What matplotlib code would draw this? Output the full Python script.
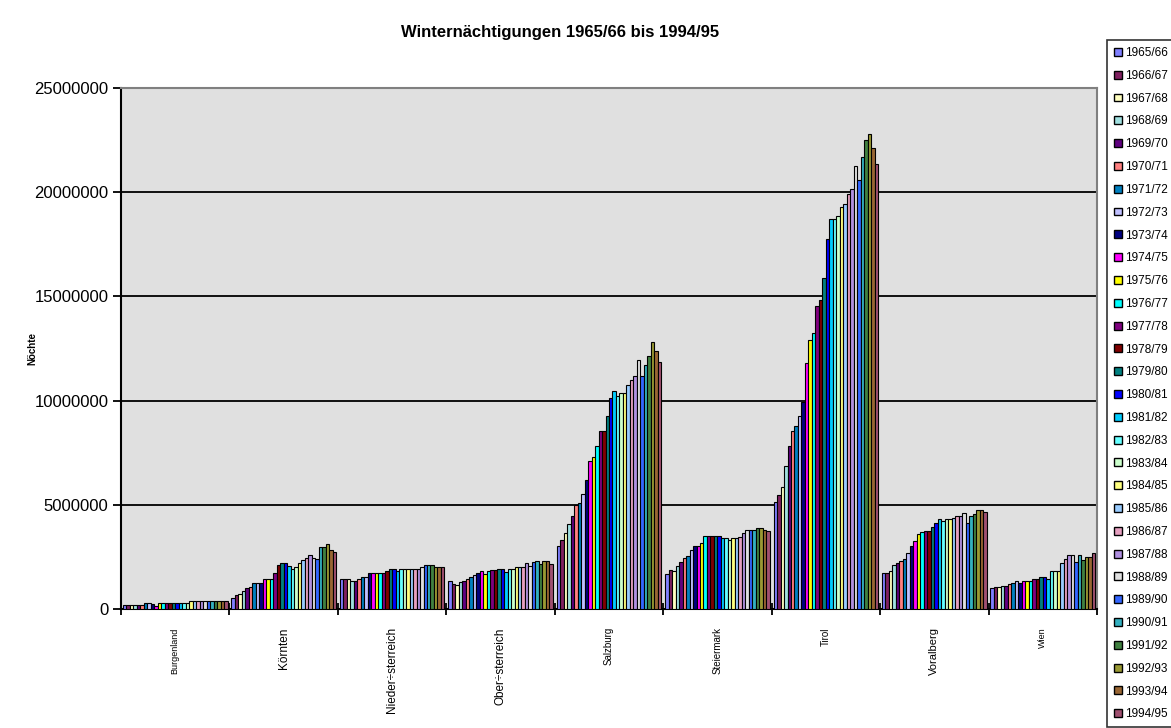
import matplotlib
matplotlib.use("Agg")
import matplotlib.pyplot as plt
from matplotlib.patches import Patch
import numpy as np

plt.rcParams['font.family'] = ['Liberation Sans', 'DejaVu Sans']

# Winternächtigungen in Millionen, je Bundesland 1965/66 .. 1994/95
seasons = ['%d/%02d' % (y, (y + 1) % 100) for y in range(1965, 1995)]
regions = ['Burgenland', 'Körnten', 'Nieder÷sterreich', 'Ober÷sterreich', 'Salzburg',
           'Steiermark', 'Tirol', 'Voralberg', 'Wien']

burgenland = [0.19, 0.19, 0.19, 0.19, 0.19, 0.20, 0.29, 0.29, 0.25, 0.15,
              0.27, 0.27, 0.27, 0.27, 0.27, 0.27, 0.27, 0.27, 0.27, 0.38,
              0.38, 0.38, 0.38, 0.38, 0.38, 0.38, 0.38, 0.38, 0.38, 0.38]
kaernten = [0.54, 0.67, 0.70, 0.86, 0.99, 1.07, 1.26, 1.26, 1.26, 1.44,
            1.44, 1.44, 1.74, 2.11, 2.22, 2.22, 2.06, 1.90, 2.00, 2.19,
            2.35, 2.43, 2.59, 2.46, 2.40, 2.99, 2.99, 3.10, 2.83, 2.75]
niederoe = [1.45, 1.45, 1.45, 1.32, 1.32, 1.42, 1.53, 1.53, 1.73, 1.73,
            1.73, 1.73, 1.73, 1.81, 1.90, 1.90, 1.81, 1.90, 1.90, 1.90,
            1.90, 1.90, 1.90, 2.02, 2.13, 2.13, 2.13, 2.02, 2.02, 2.02]
oberoe = [1.32, 1.21, 1.16, 1.29, 1.32, 1.42, 1.53, 1.65, 1.74, 1.81,
          1.69, 1.81, 1.85, 1.85, 1.90, 1.90, 1.77, 1.90, 1.90, 2.02,
          2.02, 2.02, 2.23, 2.06, 2.26, 2.29, 2.18, 2.29, 2.29, 2.18]
salzburg = [3.02, 3.29, 3.66, 4.06, 4.46, 4.98, 5.10, 5.50, 6.18, 7.12,
            7.30, 7.80, 8.56, 8.56, 9.25, 10.13, 10.48, 10.20, 10.37, 10.37,
            10.77, 10.97, 11.17, 11.93, 11.17, 11.72, 12.12, 12.81, 12.40, 11.84]
steiermark = [1.66, 1.85, 1.82, 2.06, 2.25, 2.46, 2.54, 2.81, 3.02, 3.02,
              3.18, 3.50, 3.50, 3.50, 3.50, 3.50, 3.39, 3.39, 3.29, 3.39,
              3.42, 3.45, 3.66, 3.77, 3.77, 3.77, 3.87, 3.87, 3.77, 3.74]
tirol = [5.12, 5.48, 5.86, 6.86, 7.80, 8.56, 8.79, 9.25, 9.92, 11.82,
         12.89, 13.26, 14.55, 14.84, 15.87, 17.77, 18.73, 18.73, 18.85, 19.31,
         19.43, 19.92, 20.17, 21.25, 20.58, 21.69, 22.49, 22.78, 22.12, 21.36]
voralberg = [1.73, 1.73, 1.81, 2.13, 2.23, 2.31, 2.42, 2.71, 3.02, 3.26,
             3.60, 3.71, 3.74, 3.74, 3.92, 4.11, 4.32, 4.24, 4.32, 4.32,
             4.39, 4.44, 4.44, 4.63, 4.11, 4.47, 4.56, 4.73, 4.73, 4.65]
wien = [0.99, 1.04, 1.04, 1.12, 1.12, 1.18, 1.23, 1.34, 1.26, 1.34,
        1.34, 1.34, 1.44, 1.44, 1.55, 1.55, 1.44, 1.82, 1.82, 1.82,
        2.19, 2.40, 2.60, 2.60, 2.27, 2.60, 2.35, 2.50, 2.50, 2.70]

data = [burgenland, kaernten, niederoe, oberoe, salzburg, steiermark, tirol, voralberg, wien]
label_sizes = [6.5, 8.5, 8.5, 8.5, 7, 7, 7, 8, 6.5]

colors = ['#8080ff', '#802060', '#ffffc0', '#a0e0e0', '#600080', '#ff8080', '#0080c0', '#c0c0ff',
          '#000080', '#ff00ff', '#ffff00', '#00ffff', '#800080', '#800000', '#008080', '#0000ff',
          '#00ccff', '#66ffff', '#ccffcc', '#ffff80', '#99ccff', '#e6a0c0', '#b090e0', '#e0e0e0',
          '#3366ff', '#33b0c0', '#408040', '#999933', '#996633', '#a05070']

W, H = 1171, 728
fig = plt.figure(figsize=(W / 100, H / 100), dpi=100)
ax = fig.add_axes([121 / W, 1 - 609 / H, (1097 - 121) / W, (609 - 88) / H])
ax.set_facecolor('#e0e0e0')

vals = np.array(data) * 1e6  # regions x seasons
n = len(seasons)
group = 0.965
bw = group / n
x0 = np.arange(len(regions)) + (1 - group) / 2
for j in range(n):
    ax.bar(x0 + bw * (j + 0.5), vals[:, j], width=bw, color=colors[j],
           edgecolor='black', linewidth=0.8, label=seasons[j], zorder=3)

ax.set_xlim(0, len(regions))
ax.set_ylim(0, 25000000)
ax.set_yticks(np.arange(0, 25000001, 5000000))
ax.set_yticklabels([str(v) for v in range(0, 25000001, 5000000)], fontsize=12)
ax.yaxis.grid(True, color='black', linewidth=1.3, zorder=1)
ax.tick_params(axis='y', direction='out', length=6, width=1.3, pad=3)

ax.set_xticks(np.arange(0, len(regions) + 1))
ax.set_xticklabels([])
ax.tick_params(axis='x', direction='inout', length=8, width=1.3)
for i, (name, fs) in enumerate(zip(regions, label_sizes)):
    ax.text(i + 0.5, -0.035, name, rotation=90, ha='center', va='top',
            fontsize=fs, transform=ax.get_xaxis_transform())

for s in ['left', 'bottom']:
    ax.spines[s].set_color('black')
    ax.spines[s].set_linewidth(1.5)
for s in ['top', 'right']:
    ax.spines[s].set_color('#808080')
    ax.spines[s].set_linewidth(1.5)

ax.set_ylabel('Nöchte', fontsize=7, fontweight='bold', labelpad=-2)
fig.text(560 / W, 1 - 33 / H, 'Winternächtigungen 1965/66 bis 1994/95',
         ha='center', va='center', fontsize=12, fontweight='bold')

handles = [Patch(facecolor=c, edgecolor='black', linewidth=1.0) for c in colors]
leg = fig.legend(handles, seasons, loc='upper left', bbox_to_anchor=(1107 / W, 1 - 40 / H),
                 fontsize=8.5, frameon=True, fancybox=False, edgecolor='black',
                 handlelength=0.65, handleheight=0.65, handletextpad=0.3,
                 labelspacing=0.915, borderpad=0.6, borderaxespad=0)
leg.get_frame().set_linewidth(1.2)

fig.savefig('out.png', dpi=100, facecolor='white')
